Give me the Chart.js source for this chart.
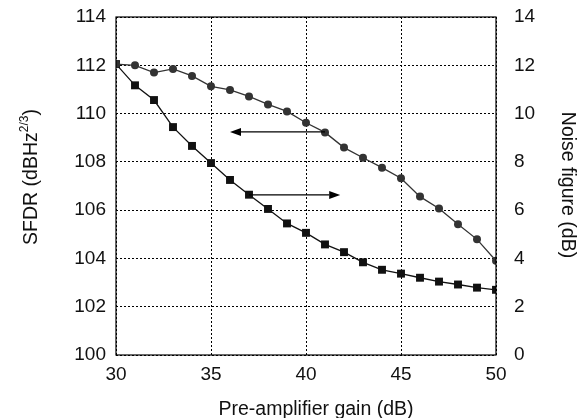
<!DOCTYPE html>
<html lang="en">
<head>
    <meta charset="UTF-8">
    <title>SFDR and noise figure vs pre-amplifier gain</title>
    <script src="https://cdn.jsdelivr.net/npm/chart.js"></script>
    <style>
        html, body {
            margin: 0;
            padding: 0;
            background: #ffffff;
        }
        #wrap {
            width: 584px;
            height: 418px;
        }
    </style>
</head>
<body>
    <div id="wrap"><canvas id="sfdrChart" width="584" height="418"></canvas></div>

    <script>
        // pre-amplifier gain (dB)
        const gain = [30, 31, 32, 33, 34, 35, 36, 37, 38, 39, 40, 41, 42, 43, 44, 45, 46, 47, 48, 49, 50];
        // SFDR (dBHz^2/3), left axis
        const sfdr = [112.05, 112.0, 111.7, 111.85, 111.56, 111.13, 110.98, 110.71, 110.38, 110.09, 109.62,
                      109.22, 108.59, 108.17, 107.76, 107.32, 106.56, 106.07, 105.42, 104.79, 103.9];
        // noise figure (dB), right axis
        const noiseFigure = [12.05, 11.17, 10.56, 9.44, 8.66, 7.95, 7.25, 6.64, 6.05, 5.45, 5.06,
                             4.58, 4.26, 3.84, 3.53, 3.37, 3.2, 3.04, 2.92, 2.79, 2.70];

        const xTicks = [30, 35, 40, 45, 50];
        const sfdrTicks = [100, 102, 104, 106, 108, 110, 112, 114];
        const nfTicks = [0, 2, 4, 6, 8, 10, 12, 14];

        // arrows: [x, y] in data units, which y axis
        const arrowSfdr = { from: [41, 109.24], to: [36, 109.24], axis: 'y' };
        const arrowNf = { from: [37, 6.63], to: [41.8, 6.63], axis: 'y2' };

        const FONT = "'Liberation Sans', Arial, sans-serif";

        const toPoints = (xs, ys) => xs.map((x, i) => ({ x: x, y: ys[i] }));

        const framePlugin = {
            id: 'frame',
            afterDatasetsDraw(chart) {
                const ctx = chart.ctx;
                const a = chart.chartArea;
                const sx = chart.scales.x;

                ctx.save();
                ctx.strokeStyle = '#000';
                ctx.lineWidth = 1.2;
                ctx.strokeRect(a.left, a.top, a.right - a.left, a.bottom - a.top);

                // arrows
                [arrowSfdr, arrowNf].forEach(ar => {
                    const sy = chart.scales[ar.axis];
                    const x1 = sx.getPixelForValue(ar.from[0]);
                    const y1 = sy.getPixelForValue(ar.from[1]);
                    const x2 = sx.getPixelForValue(ar.to[0]);
                    const y2 = sy.getPixelForValue(ar.to[1]);
                    const ang = Math.atan2(y2 - y1, x2 - x1);
                    const len = 11, half = 4;
                    ctx.strokeStyle = '#000';
                    ctx.fillStyle = '#000';
                    ctx.lineWidth = 1.3;
                    ctx.beginPath();
                    ctx.moveTo(x1, y1);
                    ctx.lineTo(x2 - Math.cos(ang) * len, y2 - Math.sin(ang) * len);
                    ctx.stroke();
                    ctx.beginPath();
                    ctx.moveTo(x2, y2);
                    ctx.lineTo(x2 - Math.cos(ang) * len - Math.sin(ang) * half, y2 - Math.sin(ang) * len + Math.cos(ang) * half);
                    ctx.lineTo(x2 - Math.cos(ang) * len + Math.sin(ang) * half, y2 - Math.sin(ang) * len - Math.cos(ang) * half);
                    ctx.closePath();
                    ctx.fill();
                });

                // axis titles
                ctx.fillStyle = '#111';
                ctx.textBaseline = 'alphabetic';

                ctx.font = '19.5px ' + FONT;
                ctx.textAlign = 'center';
                ctx.fillText('Pre-amplifier gain (dB)', 316, 415);

                // left title with superscript
                ctx.save();
                ctx.translate(37, 177);
                ctx.rotate(-Math.PI / 2);
                const main = 'SFDR (dBHz', sup = '2/3', end = ')';
                ctx.font = '19.5px ' + FONT;
                const wMain = ctx.measureText(main).width;
                const wEnd = ctx.measureText(end).width;
                ctx.font = '12px ' + FONT;
                const wSup = ctx.measureText(sup).width;
                let start = -(wMain + wSup + wEnd) / 2;
                ctx.textAlign = 'left';
                ctx.font = '19.5px ' + FONT;
                ctx.fillText(main, start, 0);
                ctx.font = '12px ' + FONT;
                ctx.fillText(sup, start + wMain, -9);
                ctx.font = '19.5px ' + FONT;
                ctx.fillText(end, start + wMain + wSup, 0);
                ctx.restore();

                // right title
                ctx.save();
                ctx.translate(562, 185);
                ctx.rotate(Math.PI / 2);
                ctx.font = '19.5px ' + FONT;
                ctx.textAlign = 'center';
                ctx.fillText('Noise figure (dB)', 0, 0);
                ctx.restore();

                ctx.restore();
            }
        };

        // fixed axis widths, no extra label overflow padding
        const fixWidth = w => s => {
            s.width = w;
            s.paddingTop = 0;
            s.paddingBottom = 0;
        };

        const ctx = document.getElementById('sfdrChart').getContext('2d');
        new Chart(ctx, {
            type: 'scatter',
            data: {
                datasets: [
                    {
                        label: 'SFDR',
                        data: toPoints(gain, sfdr),
                        yAxisID: 'y',
                        showLine: true,
                        borderColor: '#333',
                        backgroundColor: '#333',
                        borderWidth: 1.3,
                        pointStyle: 'circle',
                        pointRadius: 4,
                        pointBorderWidth: 0
                    },
                    {
                        label: 'Noise figure',
                        data: toPoints(gain, noiseFigure),
                        yAxisID: 'y2',
                        showLine: true,
                        borderColor: '#111',
                        backgroundColor: '#111',
                        borderWidth: 1.3,
                        pointStyle: 'rect',
                        pointRadius: 5.6,
                        pointBorderWidth: 0
                    }
                ]
            },
            options: {
                responsive: false,
                animation: false,
                layout: { padding: { top: 17, left: 0, right: 0, bottom: 0 } },
                plugins: {
                    legend: { display: false },
                    tooltip: { enabled: false }
                },
                scales: {
                    x: {
                        type: 'linear',
                        min: 30,
                        max: 50,
                        afterFit: s => { s.height = 63; s.paddingLeft = 0; s.paddingRight = 0; },
                        afterBuildTicks: s => { s.ticks = xTicks.map(v => ({ value: v })); },
                        grid: { color: '#000', lineWidth: 1, drawTicks: false },
                        border: { display: false, dash: [2, 2] },
                        ticks: { color: '#111', font: { family: FONT, size: 19 }, padding: 8 }
                    },
                    y: {
                        type: 'linear',
                        position: 'left',
                        min: 100,
                        max: 114,
                        afterFit: fixWidth(116),
                        afterBuildTicks: s => { s.ticks = sfdrTicks.map(v => ({ value: v })); },
                        grid: { color: '#000', lineWidth: 1, drawTicks: false },
                        border: { display: false, dash: [2, 2] },
                        ticks: { color: '#111', font: { family: FONT, size: 19 }, padding: 10 }
                    },
                    y2: {
                        type: 'linear',
                        position: 'right',
                        min: 0,
                        max: 14,
                        afterFit: fixWidth(88),
                        afterBuildTicks: s => { s.ticks = nfTicks.map(v => ({ value: v })); },
                        grid: { display: false },
                        border: { display: false },
                        ticks: { color: '#111', font: { family: FONT, size: 19 }, padding: 10 }
                    }
                }
            },
            plugins: [framePlugin]
        });
    </script>
</body>
</html>
